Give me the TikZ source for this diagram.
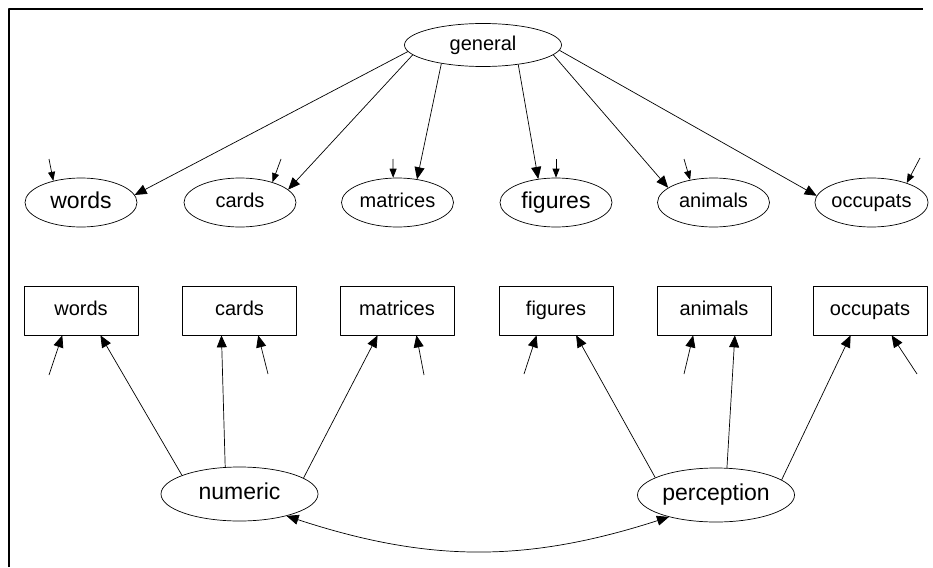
\documentclass[tikz,border=0pt]{standalone}
\usepackage{fontspec}
\setmainfont{Liberation Sans}
\usetikzlibrary{shapes.geometric,arrows.meta}

\tikzset{
  latent/.style={ellipse,draw,line width=0.7pt,inner sep=0pt,
    minimum width=112pt,minimum height=49pt,font=\fontsize{20}{24}\selectfont,
    text height=14.5pt,text depth=4pt},
  wide/.style={minimum width=157pt},
  big/.style={font=\fontsize{23}{27}\selectfont,text height=16.5pt,text depth=4.6pt},
  manifest/.style={rectangle,draw,line width=0.7pt,inner sep=0pt,
    minimum width=114pt,minimum height=49pt,font=\fontsize{20}{24}\selectfont,
    text height=14.5pt,text depth=4pt},
  load/.style={line width=0.7pt,-{Triangle[length=12pt,width=10pt]}},
  err/.style={line width=0.7pt,-{Triangle[length=9pt,width=7pt]}},
}

\begin{document}
\begin{tikzpicture}[x=1pt,y=-1pt,line join=round]
  \useasboundingbox (0,0) rectangle (933,567);
  % frame
  \draw[line width=2.5pt] (9,567) -- (9,9) -- (923,9);
  % second order factor and first order factors
  \node[latent,wide,minimum height=43pt] (G) at (483,45) {general};
  \node[latent,big] (Ewords) at (81,202.5) {words};
  \node[latent] (Ecards) at (240,202.5) {cards};
  \node[latent] (Ematrices) at (397.5,202.5) {matrices};
  \node[latent,big] (Efigures) at (556,202.5) {figures};
  \node[latent] (Eanimals) at (713.5,202.5) {animals};
  \node[latent] (Eoccupats) at (871.5,202.5) {occupats};
  % observed tests
  \node[manifest] (Bwords) at (81,310.5) {words};
  \node[manifest] (Bcards) at (239.5,310.5) {cards};
  \node[manifest] (Bmatrices) at (397,310.5) {matrices};
  \node[manifest] (Bfigures) at (556,310.5) {figures};
  \node[manifest] (Banimals) at (714,310.5) {animals};
  \node[manifest] (Boccupats) at (870,310.5) {occupats};
  % method factors
  \node[latent,wide,big,minimum height=54pt] (N) at (239.5,494) {numeric};
  \node[latent,wide,big,minimum height=54pt] (P) at (716,495) {perception};
  % loadings on general
  \draw[load] (G.185) -- (Ewords.8);
  \draw[load] (G.188) -- (Ecards.15);
  \draw[load] (G.204) -- (Ematrices.50);
  \draw[load] (G.331) -- (Efigures.127);
  \draw[load] (G.352) -- (Eanimals.162);
  \draw[load] (G.356) -- (Eoccupats.173);
  % residuals of the factors
  \coordinate (ew) at (49,159);
  \coordinate (ec) at (281,159);
  \coordinate (em) at (393,159);
  \coordinate (ef) at (556,159);
  \coordinate (ea) at (684,159);
  \coordinate (eo) at (920,158);
  \draw[err] (ew) -- (Ewords.142);
  \draw[err] (ec) -- (Ecards.32);
  \draw[err] (em) -- (Ematrices.100);
  \draw[err] (ef) -- (Efigures.90);
  \draw[err] (ea) -- (Eanimals.136);
  \draw[err] (eo) -- (Eoccupats.29);
  % method loadings
  \draw[load] (N.162) -- (Bwords.308);
  \draw[load] (N.118) -- (Bcards.234);
  \draw[load] (N.14) -- (Bmatrices.232);
  \draw[load] (P.164) -- (Bfigures.309);
  \draw[load] (P.68) -- (Banimals.310);
  \draw[load] (P.13) -- (Boccupats.232);
  % residuals of the tests
  \coordinate (uw) at (49,375);
  \coordinate (uc) at (268,374);
  \coordinate (um) at (424,375);
  \coordinate (uf) at (524,374);
  \coordinate (ua) at (684,374);
  \coordinate (uo) at (917,374);
  \draw[load] (uw) -- (Bwords.233);
  \draw[load] (uc) -- (Bcards.307);
  \draw[load] (um) -- (Bmatrices.308);
  \draw[load] (uf) -- (Bfigures.232);
  \draw[load] (ua) -- (Banimals.230);
  \draw[load] (uo) -- (Boccupats.311);
  % correlation between method factors
  \draw[line width=0.7pt,{Triangle[length=12pt,width=10pt]}-{Triangle[length=12pt,width=10pt]}]
    (N.-25) to[bend right=18] (P.205);
\end{tikzpicture}
\end{document}
